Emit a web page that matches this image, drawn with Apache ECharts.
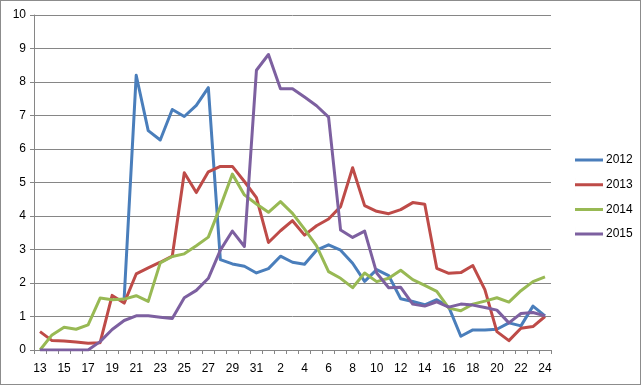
<!DOCTYPE html>
<html>
<head>
<meta charset="utf-8">
<script src="https://cdn.jsdelivr.net/npm/echarts@6/dist/echarts.min.js"></script>
<style>
html,body{margin:0;padding:0;background:#fff;}
#c{position:absolute;left:0;top:0;width:641px;height:385px;}
#b{position:absolute;left:0;top:0;width:639px;height:383px;border:1px solid #8c8c8c;pointer-events:none;}
</style>
</head>
<body>
<div id="c"></div>
<div id="b"></div>
<script>
var categories = ['13','14','15','16','17','18','19','20','21','22','23','24','25','26','27','28','29','30','31',
  '1','2','3','4','5','6','7','8','9','10','11','12','13','14','15','16','17','18','19','20','21','22','23','24'];
var seriesNames = ['2012','2013','2014','2015'];
var s2012 = [null,null,null,null,null,null,null,1.55,8.2,6.55,6.27,7.18,6.97,7.3,7.83,2.7,2.57,2.5,2.3,
  2.43,2.8,2.62,2.56,2.98,3.14,2.98,2.59,2.05,2.4,2.22,1.53,1.45,1.35,1.5,1.28,0.41,0.6,0.6,0.62,0.81,0.72,1.31,1.02];
var s2013 = [0.55,0.28,0.27,0.24,0.2,0.22,1.63,1.4,2.27,2.45,2.62,2.8,5.29,4.7,5.32,5.48,5.48,5.03,4.55,
  3.21,3.56,3.86,3.43,3.71,3.91,4.28,5.44,4.31,4.14,4.07,4.19,4.4,4.35,2.44,2.29,2.31,2.52,1.8,0.55,0.28,0.65,0.7,1.0];
var s2014 = [0.0,0.45,0.68,0.62,0.75,1.55,1.5,1.52,1.62,1.45,2.6,2.79,2.87,3.11,3.37,4.28,5.25,4.63,4.36,
  4.11,4.43,4.08,3.61,3.11,2.34,2.14,1.86,2.3,2.04,2.14,2.38,2.1,1.93,1.75,1.25,1.17,1.37,1.46,1.56,1.43,1.77,2.04,2.18];
var s2015 = [0,0,0,0,0,0.25,0.61,0.88,1.02,1.02,0.98,0.94,1.56,1.78,2.14,2.98,3.55,3.09,8.35,
  8.82,7.8,7.8,7.55,7.29,6.95,3.58,3.36,3.55,2.3,1.86,1.87,1.37,1.31,1.44,1.28,1.37,1.34,1.27,1.19,0.81,1.09,1.12,1.02];
var yTicks = {min:0, max:10, interval:1};
var colors = ['#4A7EBB','#BE4B48','#98B954','#7D60A0'];

var chart = echarts.init(document.getElementById('c'), null, {renderer:'canvas'});
var dataSets = [s2012, s2013, s2014, s2015];
var series = dataSets.map(function(d,i){
  return {name: seriesNames[i], type:'line', data:d, symbol:'none', smooth:false,
    connectNulls:false, animation:false,
    lineStyle:{width:3, color:colors[i], join:'round'}, itemStyle:{color:colors[i]}};
});
var legendIcon = 'path://M0,0h0.01v14h-0.01z M0,5.5h28v3h-28z';
chart.setOption({
  animation:false,
  textStyle:{fontFamily:'Liberation Sans'},
  grid:{left:34, right:90, top:15, bottom:35, containLabel:false},
  legend:{orient:'vertical', left:570, top:148, itemWidth:28, itemHeight:14, itemGap:10.7,
    icon: legendIcon,
    textStyle:{fontSize:12, color:'#000', fontFamily:'Liberation Sans', padding:[0,0,0,-2]},
    data:seriesNames},
  xAxis:{type:'category', data:categories, boundaryGap:true,
    axisLine:{lineStyle:{color:'#868686', width:1}},
    axisTick:{show:true, interval:0, length:4, lineStyle:{color:'#868686'}},
    axisLabel:{interval:1, color:'#000', fontSize:12, margin:13, fontFamily:'Liberation Sans'},
    splitLine:{show:false}},
  yAxis:{type:'value', min:yTicks.min, max:yTicks.max, interval:yTicks.interval,
    axisLine:{show:true, lineStyle:{color:'#868686', width:1}},
    axisTick:{show:true, length:4, inside:false, lineStyle:{color:'#868686'}},
    axisLabel:{color:'#000', fontSize:12, margin:8, fontFamily:'Liberation Sans'},
    splitLine:{show:true, lineStyle:{color:'#868686', width:1}}},
  series: series
});
</script>
</body>
</html>
